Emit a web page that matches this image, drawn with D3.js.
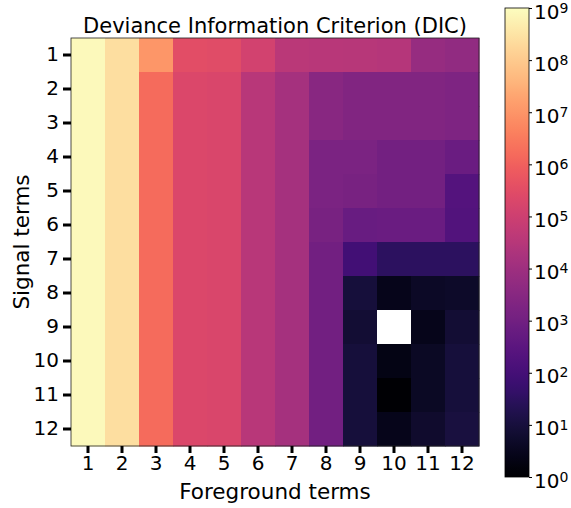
<!DOCTYPE html>
<html lang="en">

<head>
    <meta charset="utf-8">
    <title>DIC heatmap</title>
    <script src="https://cdn.jsdelivr.net/npm/d3@7"></script>
    <style>
    body {
        margin: 0;
        background: #fff;
    }

    text {
        font-family: "DejaVu Sans", sans-serif;
        fill: #000;
    }

    .axis path.domain {
        display: none;
    }
    </style>
</head>

<body>
    <script>
    //data
    var foregroundTerms = [1, 2, 3, 4, 5, 6, 7, 8, 9, 10, 11, 12];
    var signalTerms = [1, 2, 3, 4, 5, 6, 7, 8, 9, 10, 11, 12];
    var cbTicks = [1, 1e1, 1e2, 1e3, 1e4, 1e5, 1e6, 1e7, 1e8, 1e9];

    //one row per signal term, one value per foreground term (null = missing)
    var dic = [
        [8e8, 2.5e8, 1e7, 3.2e5, 3e5, 1.3e5, 4e4, 3.5e4, 3.2e4, 3e4, 6.3e3, 5e3],
        [8e8, 2.5e8, 1.6e6, 2.2e5, 2e5, 3.5e4, 1.3e4, 3.2e3, 2.2e3, 2.2e3, 2.2e3, 2e3],
        [8e8, 2.5e8, 1.6e6, 2.2e5, 2e5, 3.5e4, 1.3e4, 3.2e3, 2.2e3, 2.2e3, 2.2e3, 2e3],
        [8e8, 2.5e8, 1.6e6, 2.2e5, 2e5, 3.5e4, 1.3e4, 1.6e3, 1.6e3, 1.1e3, 1.1e3, 700],
        [8e8, 2.5e8, 1.6e6, 2.2e5, 2e5, 3.5e4, 1.3e4, 1.6e3, 1.4e3, 1.1e3, 1.1e3, 220],
        [8e8, 2.5e8, 1.6e6, 2.2e5, 2e5, 3.5e4, 1.3e4, 1.4e3, 630, 650, 700, 200],
        [8e8, 2.5e8, 1.6e6, 2.2e5, 2e5, 3.5e4, 1.3e4, 1e3, 90, 32, 32, 32],
        [8e8, 2.5e8, 1.6e6, 2.2e5, 2e5, 3.5e4, 1.3e4, 1e3, 9, 2.8, 4.5, 5],
        [8e8, 2.5e8, 1.6e6, 2.2e5, 2e5, 3.5e4, 1.3e4, 1e3, 7, null, 2.8, 7],
        [8e8, 2.5e8, 1.6e6, 2.2e5, 2e5, 3.5e4, 1.3e4, 1e3, 9, 2.2, 4, 9],
        [8e8, 2.5e8, 1.6e6, 2.2e5, 2e5, 3.5e4, 1.3e4, 1e3, 9, 1, 4, 9],
        [8e8, 2.5e8, 1.6e6, 2.2e5, 2e5, 3.5e4, 1.3e4, 1e3, 9, 2.8, 5.6, 11]
    ];

    var w = 571,
        h = 508;
    var plot = { left: 71, top: 38, size: 408 };
    var cb = { left: 505, top: 8, width: 24, bottom: 477 };

    var cells = [];
    dic.forEach(function(row, i) {
        row.forEach(function(v, j) {
            cells.push({ s: signalTerms[i], f: foregroundTerms[j], v: v });
        });
    });

    //scales
    var x = d3.scaleBand()
        .domain(foregroundTerms)
        .range([plot.left, plot.left + plot.size]);

    var y = d3.scaleBand()
        .domain(signalTerms)
        .range([plot.top, plot.top + plot.size]);

    var color = d3.scaleSequentialLog(d3.interpolateMagma)
        .domain([1, 1e9]);

    var svg = d3.select('body')
        .append('svg')
        .attr('width', w)
        .attr('height', h);

    //heatmap cells
    svg.append('g')
        .selectAll('rect')
        .data(cells)
        .enter()
        .append('rect')
        .attr('x', function(d) { return x(d.f); })
        .attr('y', function(d) { return y(d.s); })
        .attr('width', x.bandwidth() + 0.5)
        .attr('height', y.bandwidth() + 0.5)
        .attr('fill', function(d) { return d.v == null ? '#fff' : color(d.v); });

    //frame
    svg.append('rect')
        .attr('x', plot.left)
        .attr('y', plot.top)
        .attr('width', plot.size)
        .attr('height', plot.size)
        .attr('fill', 'none')
        .attr('stroke', '#222')
        .attr('stroke-width', 0.8);

    //axes
    svg.append('g')
        .attr('class', 'axis')
        .attr('transform', 'translate(0,' + (plot.top + plot.size) + ')')
        .call(d3.axisBottom(x).tickSize(7).tickPadding(3));

    svg.append('g')
        .attr('class', 'axis')
        .attr('transform', 'translate(' + plot.left + ',0)')
        .call(d3.axisLeft(y).tickSize(8).tickPadding(4));

    svg.selectAll('.axis .tick line')
        .attr('stroke', '#000')
        .attr('stroke-width', 3);

    svg.selectAll('.axis .tick text')
        .style('font-size', '20px');

    //titles
    svg.append('text')
        .attr('x', plot.left + plot.size / 2)
        .attr('y', 33)
        .attr('text-anchor', 'middle')
        .style('font-size', '21px')
        .text('Deviance Information Criterion (DIC)');

    svg.append('text')
        .attr('x', plot.left + plot.size / 2)
        .attr('y', 499)
        .attr('text-anchor', 'middle')
        .style('font-size', '21.5px')
        .text('Foreground terms');

    svg.append('text')
        .attr('transform', 'translate(29,' + (plot.top + plot.size / 2) + ') rotate(-90)')
        .attr('text-anchor', 'middle')
        .style('font-size', '21.5px')
        .text('Signal terms');

    //colorbar
    var defs = svg.append('defs');
    var grad = defs.append('linearGradient')
        .attr('id', 'cbgrad')
        .attr('x1', 0).attr('y1', 1)
        .attr('x2', 0).attr('y2', 0);

    grad.selectAll('stop')
        .data(d3.range(0, 1.0001, 0.02))
        .enter()
        .append('stop')
        .attr('offset', function(t) { return t; })
        .attr('stop-color', function(t) { return d3.interpolateMagma(t); });

    svg.append('rect')
        .attr('x', cb.left)
        .attr('y', cb.top)
        .attr('width', cb.width)
        .attr('height', cb.bottom - cb.top)
        .attr('fill', 'url(#cbgrad)')
        .attr('stroke', '#000')
        .attr('stroke-width', 0.8);

    var cbScale = d3.scaleLog()
        .domain([1, 1e9])
        .range([cb.bottom, cb.top]);

    var cbAxis = svg.append('g')
        .attr('class', 'axis')
        .attr('transform', 'translate(' + (cb.left + cb.width) + ',0)')
        .call(d3.axisRight(cbScale).tickValues(cbTicks).tickSize(3).tickPadding(2).tickFormat(''));

    cbAxis.selectAll('.tick line')
        .attr('stroke', '#000')
        .attr('stroke-width', 1);

    cbAxis.selectAll('.tick text')
        .style('font-size', '20px')
        .attr('dy', '0.5em')
        .each(function(d) {
            var t = d3.select(this);
            t.text('10');
            t.append('tspan')
                .attr('dy', '-0.42em')
                .style('font-size', '14px')
                .text(Math.round(Math.log10(d)));
        });
    </script>
</body>

</html>
